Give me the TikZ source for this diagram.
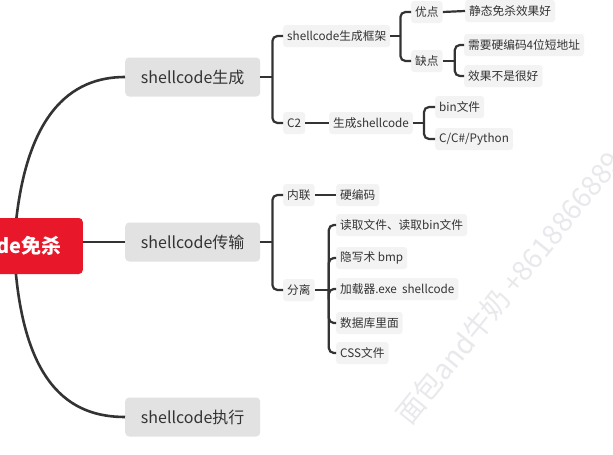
\documentclass[tikz,border=0pt]{standalone}
\usepackage{fontspec}
\setmainfont{Noto Sans CJK SC}
\definecolor{txt}{HTML}{333333}
\definecolor{topicgray}{HTML}{E2E2E2}
\definecolor{subgray}{HTML}{F3F3F3}
\definecolor{rootred}{HTML}{E8172A}
\definecolor{wm}{HTML}{E9E9ED}
\tikzset{
  topic/.style={fill=topicgray, rounded corners=4pt, text=txt, font=\fontsize{16}{19}\selectfont,
    minimum height=39pt, minimum width=135pt, inner xsep=6pt, anchor=west},
  leaf/.style={fill=subgray, rounded corners=3pt, text=txt, font=\fontsize{11.7}{14}\selectfont,
    minimum height=22pt, inner xsep=4pt, inner ysep=2pt, anchor=west},
  rootbox/.style={fill=rootred, rounded corners=4pt, text=white, font=\fontsize{20}{24}\selectfont\bfseries,
    minimum height=56pt, inner xsep=21pt, anchor=east},
  bigline/.style={draw=txt, line width=2.6pt},
  conn/.style={draw=txt, line width=2.2pt, rounded corners=5pt}
}
\begin{document}
\begin{tikzpicture}[x=1pt,y=-1pt]
\useasboundingbox (0,0) rectangle (613,455);
\clip (0,0) rectangle (613,455);
\fill[white] (0,0) rectangle (613,455);
% watermark
\node[text=wm, font=\fontsize{28}{30}\selectfont, rotate=51, anchor=south west, inner sep=0pt] (wmark) at (412,428) {面包and牛奶 +8618866889};
% main topics
\node[topic] (gen) at (125,77) {shellcode生成};
\node[topic] (trans) at (125,242) {shellcode传输};
\node[topic] (exe) at (125,417) {shellcode执行};
\coordinate (hub) at (14,246);
\draw[bigline] (hub) .. controls (22,112) and (72,77) .. (gen.west);
\draw[bigline] (hub) .. controls (20,385) and (70,417) .. (exe.west);
\node[rootbox] (root) at (83,246) {shellcode免杀};
\draw[bigline] (root.east |- trans.west) -- (trans.west);
% generation subtree
\node[leaf] (frame) at (283,36) {shellcode生成框架};
\node[leaf] (c2) at (283,123) {C2};
\node[leaf] (pro) at (411,12) {优点};
\node[leaf] (con) at (411,61) {缺点};
\node[leaf] (static) at (465,11) {静态免杀效果好};
\node[leaf] (hard4) at (464,45) {需要硬编码4位短地址};
\node[leaf] (bad) at (464,76) {效果不是很好};
\node[leaf] (mkshell) at (329,123) {生成shellcode};
\node[leaf] (bin) at (435,107) {bin文件};
\node[leaf] (lang) at (435,139) {C/C\#/Python};
\draw[conn] (gen.east) -- ([xshift=12pt]gen.east);
\draw[conn] ([xshift=12pt]gen.east) |- (frame.west);
\draw[conn] ([xshift=12pt]gen.east) |- (c2.west);
\draw[conn] (frame.east) -- ([xshift=10pt]frame.east);
\draw[conn] ([xshift=10pt]frame.east) |- (pro.west);
\draw[conn] ([xshift=10pt]frame.east) |- (con.west);
\draw[conn] (pro.east) -- (static.west);
\draw[conn] (con.east) -- ([xshift=12pt]con.east);
\draw[conn] ([xshift=12pt]con.east) |- (hard4.west);
\draw[conn] ([xshift=12pt]con.east) |- (bad.west);
\draw[conn] (c2.east) -- (mkshell.west);
\draw[conn] (mkshell.east) -- ([xshift=11pt]mkshell.east);
\draw[conn] ([xshift=11pt]mkshell.east) |- (bin.west);
\draw[conn] ([xshift=11pt]mkshell.east) |- (lang.west);
% transfer subtree
\node[leaf] (inl) at (283,195) {内联};
\node[leaf] (sep) at (283,290) {分离};
\node[leaf] (hcode) at (336,195) {硬编码};
\node[leaf] (readf) at (336,225) {读取文件、读取bin文件};
\node[leaf] (stego) at (336,258) {隐写术 bmp};
\node[leaf] (loader) at (336,289) {加载器.exe\ \ shellcode};
\node[leaf] (db) at (336,323) {数据库里面};
\node[leaf] (css) at (336,353) {CSS文件};
\draw[conn] (trans.east) -- ([xshift=12pt]trans.east);
\draw[conn] ([xshift=12pt]trans.east) |- (inl.west);
\draw[conn] ([xshift=12pt]trans.east) |- (sep.west);
\draw[conn] (inl.east) -- (hcode.west);
\draw[conn] (sep.east) -- ([xshift=14pt]sep.east);
\draw[conn] ([xshift=14pt]sep.east) |- (readf.west);
\draw[conn] ([xshift=14pt]sep.east) |- (stego.west);
\draw[conn] ([xshift=14pt]sep.east) |- (loader.west);
\draw[conn] ([xshift=14pt]sep.east) |- (db.west);
\draw[conn] ([xshift=14pt]sep.east) |- (css.west);
\end{tikzpicture}
\end{document}
